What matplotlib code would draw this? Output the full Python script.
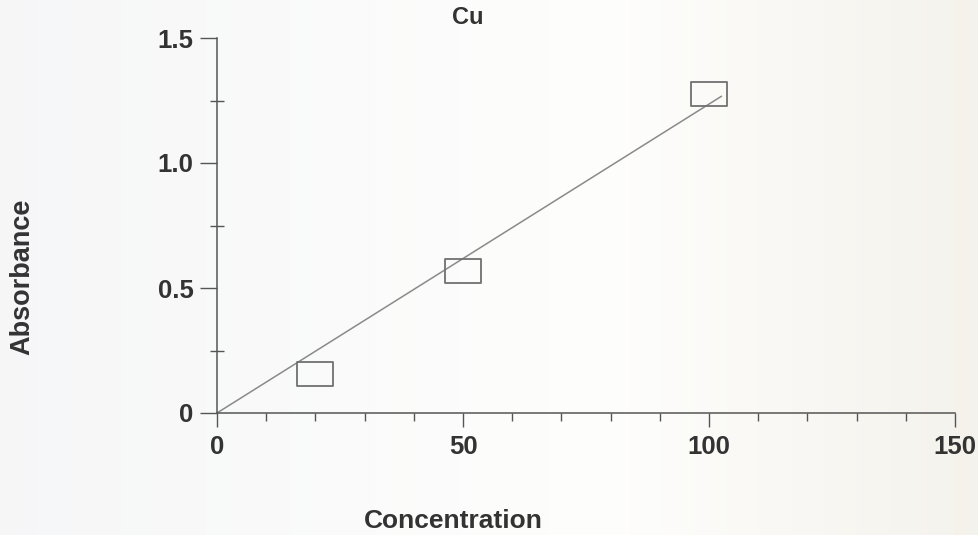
import numpy as np
import matplotlib
matplotlib.use("Agg")
import matplotlib.pyplot as plt
from matplotlib.path import Path
from matplotlib.ticker import MultipleLocator

# Calibration data for copper
concentration = [20, 50, 100]
absorbance = [0.155, 0.57, 1.278]
x_ticks = [0, 50, 100, 150]
y_ticks = [0, 0.5, 1.0, 1.5]
y_tick_labels = ["0", "0.5", "1.0", "1.5"]
fit_extent = [0, 102.5]

# Least-squares line forced through the origin
xc = np.array(concentration, dtype=float)
yc = np.array(absorbance, dtype=float)
slope = np.sum(xc * yc) / np.sum(xc * xc)
fit_x = np.array(fit_extent, dtype=float)
fit_y = slope * fit_x

plt.rcParams["font.family"] = ["Liberation Sans", "DejaVu Sans"]

fig = plt.figure(figsize=(9.79, 5.35), dpi=100)

# Paper tone across the sheet
bg = fig.add_axes([0, 0, 1, 1], zorder=-10)
cols = np.linspace(0, 1, 400)
left_tone = np.array([0.965, 0.967, 0.972])
mid_tone = np.array([0.995, 0.995, 0.99])
right_tone = np.array([0.96, 0.95, 0.925])
grad = np.zeros((1, cols.size, 3))
for i, t in enumerate(cols):
    if t < 0.62:
        w = t / 0.62
        grad[0, i] = left_tone * (1 - w) + mid_tone * w
    else:
        w = (t - 0.62) / 0.38
        grad[0, i] = mid_tone * (1 - w) + right_tone * w
bg.imshow(grad, aspect="auto", extent=[0, 1, 0, 1])
bg.axis("off")

ax = fig.add_axes([217 / 979, 1 - 413 / 535, (955 - 217) / 979, (413 - 38) / 535])
ax.patch.set_alpha(0)

ink = "#555555"
text_color = "#333333"

ax.plot(fit_x, fit_y, color="#8a8a8a", lw=1.1, zorder=2)

rect = Path([(-1.6, -1), (1.6, -1), (1.6, 1), (-1.6, 1), (-1.6, -1)],
            [Path.MOVETO, Path.LINETO, Path.LINETO, Path.LINETO, Path.CLOSEPOLY])
ax.plot(concentration, absorbance, linestyle="none", marker=rect, markersize=26.5,
        markerfacecolor="none", markeredgecolor="#707070", markeredgewidth=1.3, zorder=3)

ax.set_xlim(0, 150)
ax.set_ylim(0, 1.5)
for s in ("top", "right"):
    ax.spines[s].set_visible(False)
for s in ("left", "bottom"):
    ax.spines[s].set_color(ink)
    ax.spines[s].set_linewidth(1.1)

ax.set_xticks(x_ticks)
ax.set_xticklabels([str(v) for v in x_ticks])
ax.xaxis.set_minor_locator(MultipleLocator(10))
ax.set_yticks(y_ticks)
ax.set_yticklabels(y_tick_labels)
ax.yaxis.set_minor_locator(MultipleLocator(0.25))

ax.tick_params(axis="x", which="major", direction="out", length=10, width=1, color=ink,
               pad=6, labelsize=18.5, labelcolor=text_color)
ax.tick_params(axis="x", which="minor", direction="out", length=6, width=1, color=ink)
ax.tick_params(axis="y", which="major", direction="out", length=12, width=1, color=ink,
               pad=5, labelsize=18.5, labelcolor=text_color)
ax.tick_params(axis="y", which="minor", direction="inout", length=10, width=1, color=ink)
for lab in ax.get_xticklabels() + ax.get_yticklabels():
    lab.set_fontweight("bold")

fig.text(468 / 979, 1 - 17 / 535, "Cu", ha="center", va="center", fontsize=17,
         fontweight="bold", color=text_color)
fig.text(453 / 979, 1 - 521 / 535, "Concentration", ha="center", va="center", fontsize=19,
         fontweight="bold", color=text_color)
fig.text(22 / 979, 1 - 277 / 535, "Absorbance", ha="center", va="center", rotation=90,
         fontsize=19.5, fontweight="bold", color=text_color)

fig.savefig("out.png", dpi=100)
